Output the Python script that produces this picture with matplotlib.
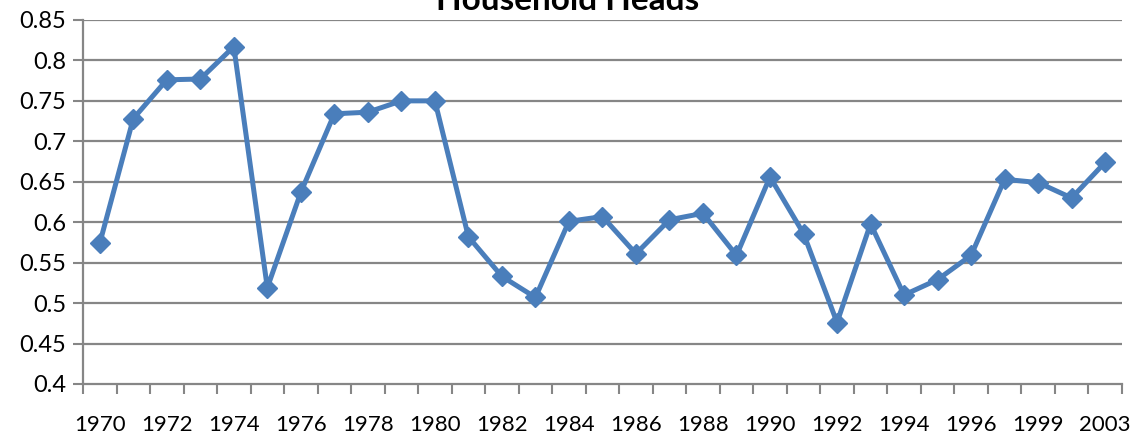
import matplotlib
matplotlib.use('Agg')
import matplotlib.pyplot as plt

plt.rcParams['font.family'] = ['Lato', 'DejaVu Sans']

years = ['1970', '1971', '1972', '1973', '1974', '1975', '1976', '1977', '1978', '1979',
         '1980', '1981', '1982', '1983', '1984', '1985', '1986', '1987', '1988', '1989',
         '1990', '1991', '1992', '1993', '1994', '1995', '1996', '1997', '1999', '2001',
         '2003']
share = [0.574, 0.728, 0.776, 0.777, 0.817, 0.519, 0.637, 0.734, 0.736, 0.750,
         0.750, 0.582, 0.533, 0.507, 0.601, 0.607, 0.561, 0.603, 0.611, 0.559,
         0.656, 0.586, 0.476, 0.598, 0.510, 0.529, 0.559, 0.653, 0.649, 0.630,
         0.674]
y_ticks = [0.4, 0.45, 0.5, 0.55, 0.6, 0.65, 0.7, 0.75, 0.8, 0.85]
y_labels = ['0.4', '0.45', '0.5', '0.55', '0.6', '0.65', '0.7', '0.75', '0.8', '0.85']

blue = '#4A7EBB'
grid = '#868686'

fig = plt.figure(figsize=(11.37, 4.36), dpi=100)
ax = fig.add_axes([0.073, 0.1193, 0.9137, 0.8349])

x = list(range(len(years)))
ax.plot(x, share, color=blue, linewidth=3.6, marker='D', markersize=10,
        markerfacecolor=blue, markeredgecolor=blue, zorder=3)

ax.set_xlim(-0.5, len(years) - 0.5)
ax.set_ylim(0.4, 0.85)
ax.set_yticks(y_ticks)
ax.set_yticklabels(y_labels)
for v in y_ticks[1:]:
    ax.axhline(v, color=grid, linewidth=1.6, zorder=1)

# category labels every other slot, ticks on the category boundaries
ax.set_xticks(x[::2])
ax.set_xticklabels(years[::2])
ax.set_xticks([i - 0.5 for i in range(len(years) + 1)], minor=True)
ax.tick_params(axis='x', which='major', length=0, pad=22, labelsize=16)
ax.tick_params(axis='x', which='minor', length=7, width=1.5, color=grid, direction='out')
ax.tick_params(axis='y', length=7, width=1.5, color=grid, labelsize=17, pad=5)

for s in ['top', 'right']:
    ax.spines[s].set_visible(False)
ax.spines['left'].set_color(grid)
ax.spines['left'].set_linewidth(1.6)
ax.spines['bottom'].set_color(grid)
ax.spines['bottom'].set_linewidth(1.6)

fig.text(0.499, 0.977, 'Household Heads', ha='center', va='baseline',
         fontsize=24, fontweight='bold')

fig.savefig('out.png', dpi=100)
